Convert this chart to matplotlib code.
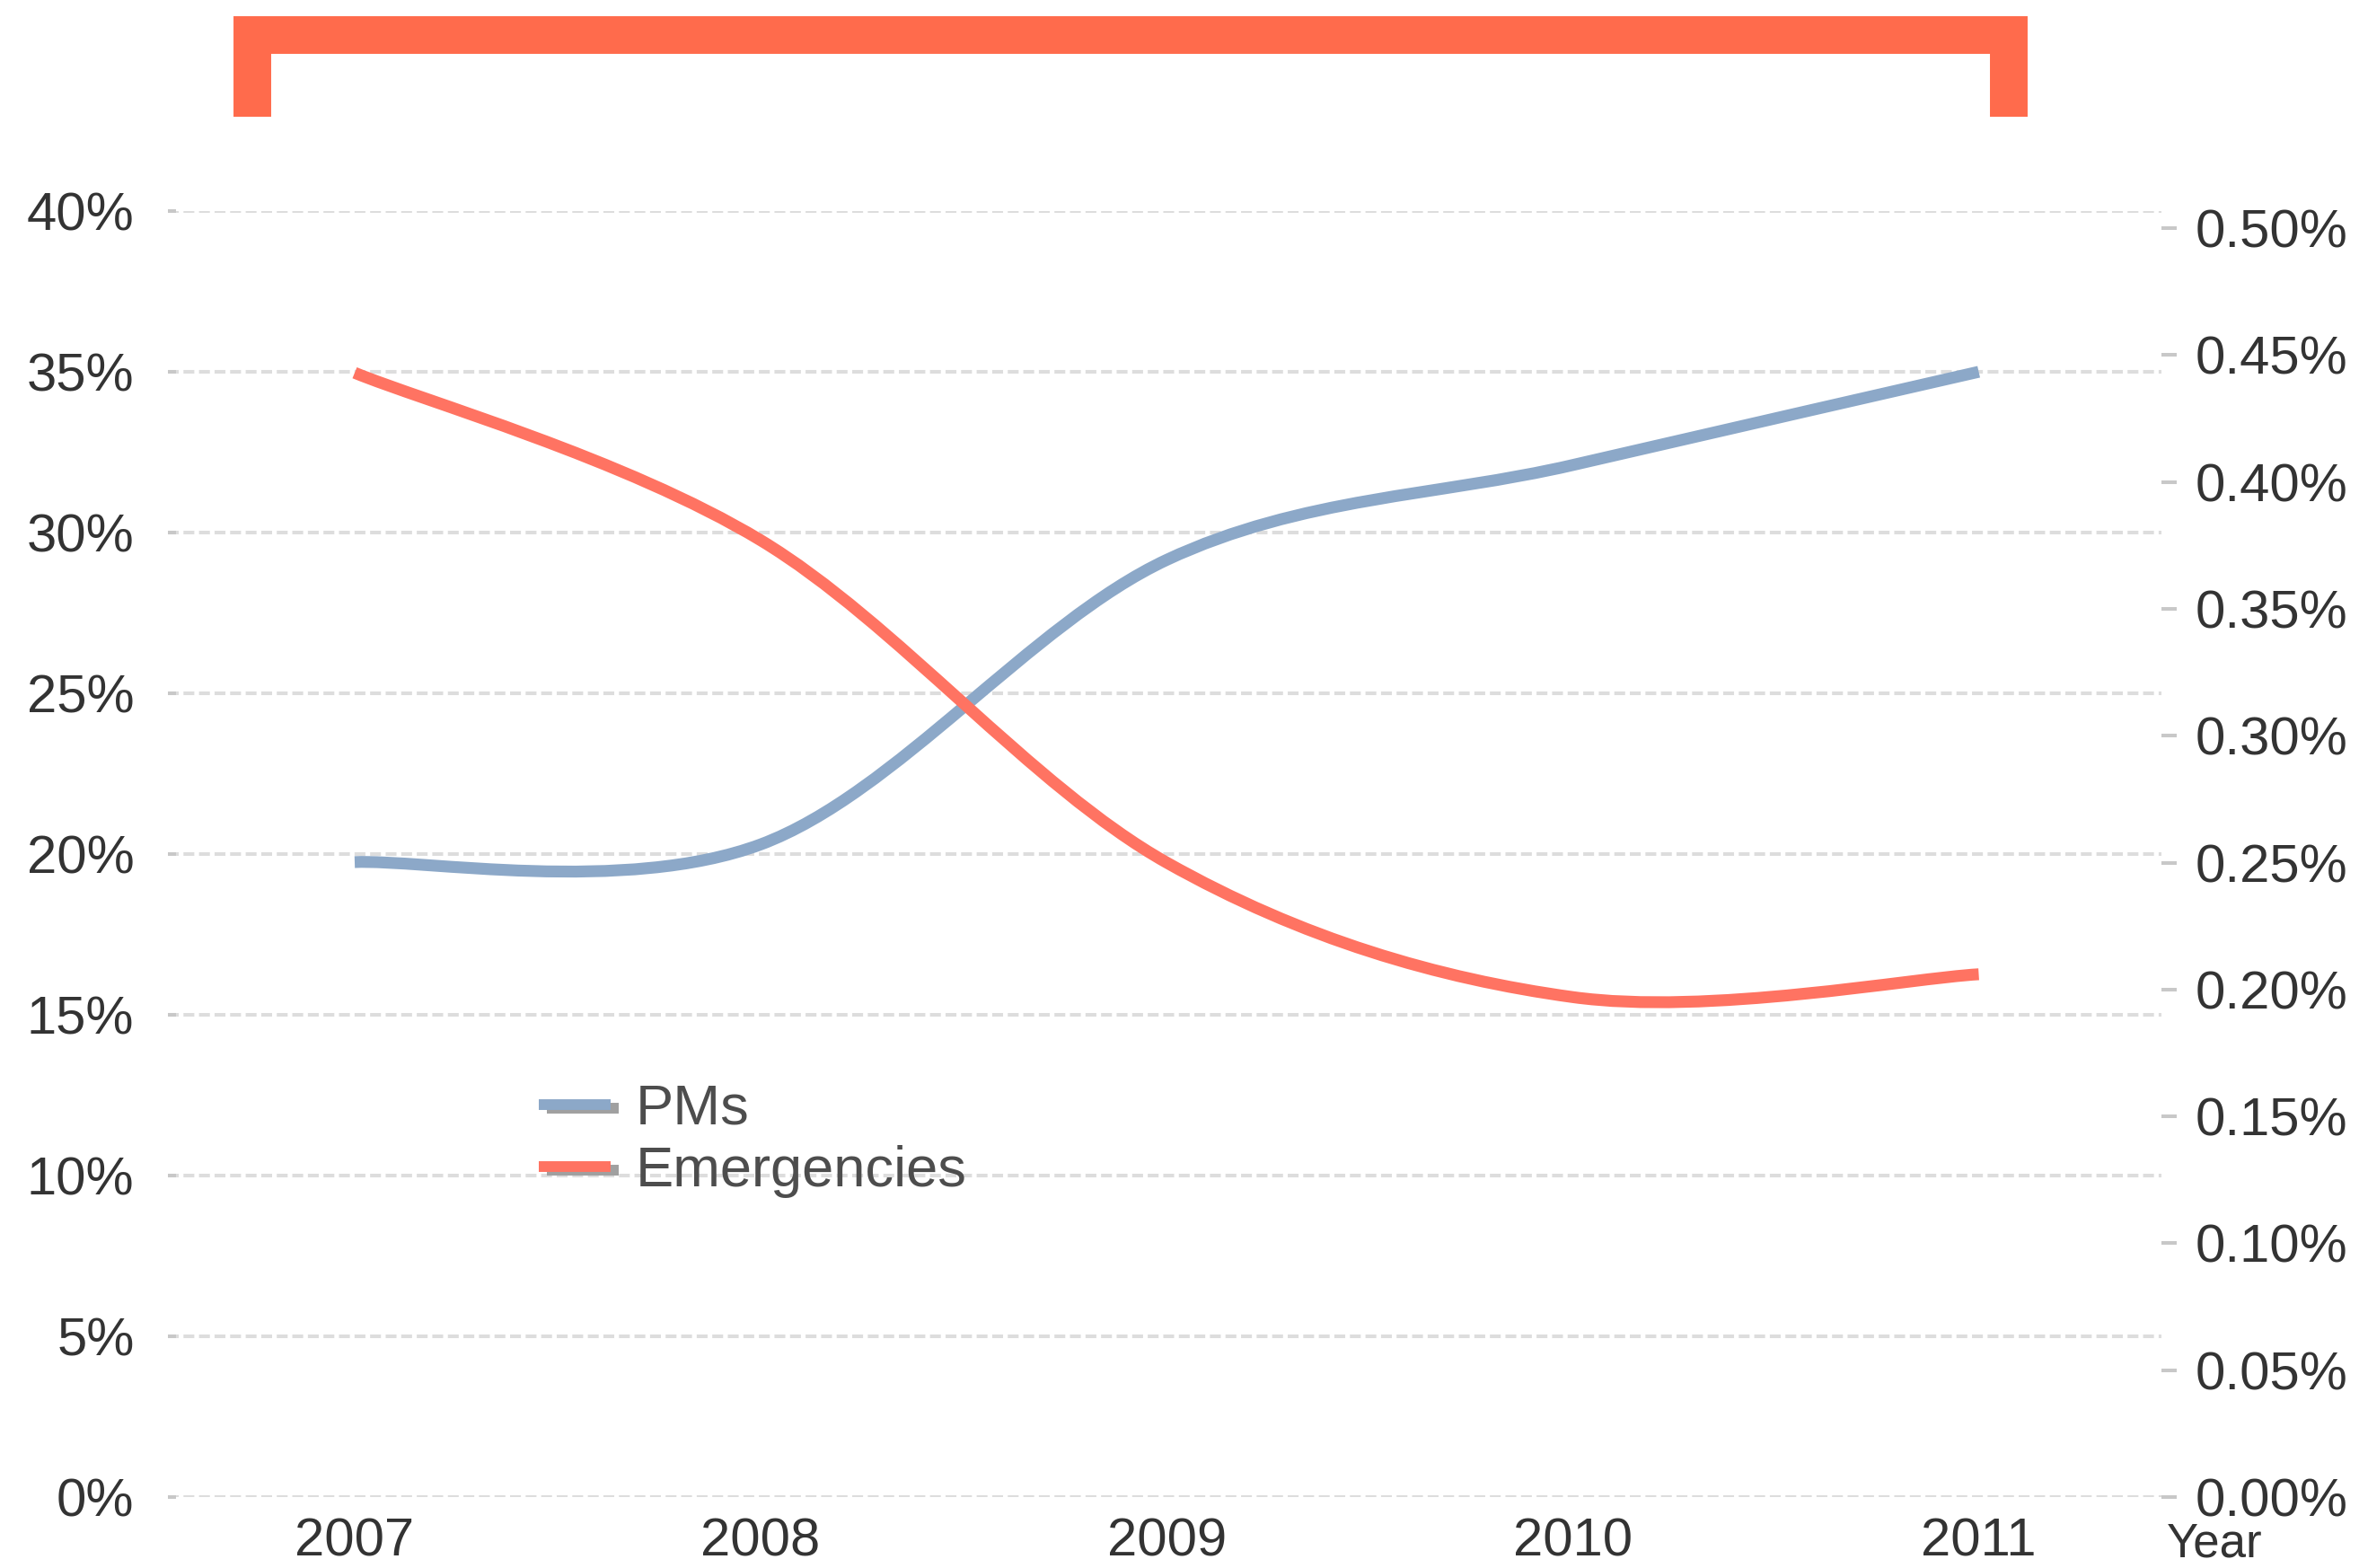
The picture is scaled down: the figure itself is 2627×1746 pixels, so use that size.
import numpy as np
import matplotlib.pyplot as plt
import matplotlib.patheffects as pe
from matplotlib.path import Path
from matplotlib.patches import PathPatch
from matplotlib.lines import Line2D
from matplotlib.ticker import FuncFormatter, MultipleLocator

plt.rcParams['font.family'] = ['Liberation Sans', 'DejaVu Sans']

years = ['2007', '2008', '2009', '2010', '2011']
pms = [19.75, 20.3, 29.15, 32.1, 35.0]              # % (left axis)
emergencies = [0.443, 0.377, 0.250, 0.197, 0.206]   # % (right axis)

BLUE = '#8CA8C8'
RED = '#FF7362'
BRACKET = '#FF6B4C'
GRID = '#DDDDDD'
TICK = '#C8C8C8'
TXT = '#333333'
FS = 43

W, H = 2627, 1746
fig = plt.figure(figsize=(W / 100, H / 100), dpi=100)
ax = fig.add_axes([187 / W, 1 - 1667 / H, (2407 - 187) / W, (1667 - 235) / H])
ax2 = ax.twinx()


def smooth_path(xs, ys):
    # bezier segments through the points, catmull-rom style control points
    n = len(xs)
    pts = np.column_stack([xs, ys]).astype(float)
    verts = [pts[0]]
    codes = [Path.MOVETO]
    for i in range(n - 1):
        p_prev = pts[max(i - 1, 0)]
        p0 = pts[i]
        p1 = pts[i + 1]
        p_next = pts[min(i + 2, n - 1)]
        c1 = p0 + (p1 - p_prev) / 6
        c2 = p1 - (p_next - p0) / 6
        verts += [c1, c2, p1]
        codes += [Path.CURVE4] * 3
    return Path(verts, codes)


x = np.arange(len(years))
lw = 9.5
ax.add_patch(PathPatch(smooth_path(x, pms), fill=False, edgecolor=BLUE,
                       lw=lw, capstyle='butt', joinstyle='round'))
ax2.add_patch(PathPatch(smooth_path(x, emergencies), fill=False, edgecolor=RED,
                        lw=lw, capstyle='butt', joinstyle='round'))

ax.set_xlim(-0.46, 4.45)
ax.set_ylim(0, 40)
ax2.set_ylim(0, 0.50673)

ax.set_xticks(x)
ax.set_xticklabels(years)
ax.yaxis.set_major_locator(MultipleLocator(5))
ax.yaxis.set_major_formatter(FuncFormatter(lambda v, p: f'{v:.0f}%'))
ax2.yaxis.set_major_locator(MultipleLocator(0.05))
ax2.yaxis.set_major_formatter(FuncFormatter(lambda v, p: f'{v:.2f}%'))

for a in (ax, ax2):
    for s in a.spines.values():
        s.set_visible(False)

ax.grid(axis='y', color=GRID, lw=2.9, linestyle=(0, (3, 1.3)))
ax.set_axisbelow(True)
ax.tick_params(axis='x', length=0, pad=16, labelsize=FS, labelcolor=TXT)
ax.tick_params(axis='y', direction='in', length=6.5, width=2.9, color=TICK,
               pad=27, labelsize=FS, labelcolor=TXT)
ax2.tick_params(axis='y', direction='out', length=12, width=2.9, color=TICK,
                pad=15, labelsize=FS, labelcolor=TXT)

fig.text(2413 / W, 2 / H, 'Year', ha='left', va='bottom',
         fontsize=38, color=TXT)

# legend with drop-shadowed handles
shadow = [pe.SimpleLineShadow(offset=(6.5, -2.9), shadow_color='#A0A0A0', alpha=1),
          pe.Normal()]
handles = [Line2D([], [], color=BLUE, lw=8.6, solid_capstyle='butt', path_effects=shadow),
           Line2D([], [], color=RED, lw=8.6, solid_capstyle='butt', path_effects=shadow)]
fig.legend(handles, ['PMs', 'Emergencies'], loc='upper left',
           bbox_to_anchor=(600 / W, 1 - 1206 / H), frameon=False,
           fontsize=45.5, labelcolor='#4D4D4D', handlelength=1.27,
           handletextpad=0.44, labelspacing=0.16, borderpad=0, borderaxespad=0)

# bracket across the top
fig.add_artist(Line2D([281 / W, 281 / W, 2236.5 / W, 2236.5 / W],
                      [1 - 130 / H, 1 - 39 / H, 1 - 39 / H, 1 - 130 / H],
                      transform=fig.transFigure, color=BRACKET, lw=30.2,
                      solid_joinstyle='miter', solid_capstyle='butt'))

fig.savefig('out.png', dpi=100)
